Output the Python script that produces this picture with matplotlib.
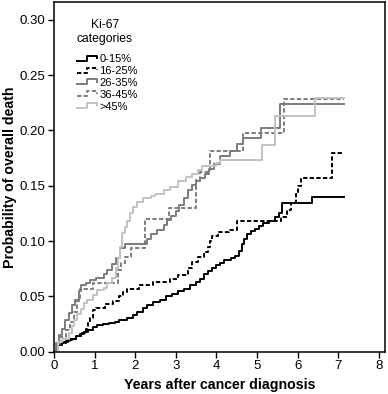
import numpy as np
import matplotlib
matplotlib.use("Agg")
import matplotlib.pyplot as plt
from matplotlib.lines import Line2D
from matplotlib.legend_handler import HandlerLine2D

plt.rcParams['font.family'] = ['Liberation Sans', 'DejaVu Sans']

# cumulative probability of overall death (step, post)
t_0_15 = [0, 0.05, 0.1, 0.15, 0.25, 0.35, 0.45, 0.55, 0.65, 0.75, 0.85, 0.95, 1.05, 1.2, 1.35,
          1.5, 1.6, 1.8, 1.95, 2.05, 2.2, 2.3, 2.45, 2.6, 2.75, 2.9, 3.05, 3.2, 3.35, 3.5, 3.6,
          3.7, 3.8, 3.9, 4.0, 4.1, 4.2, 4.35, 4.45, 4.55, 4.62, 4.68, 4.75, 4.85, 4.95, 5.05,
          5.15, 5.3, 5.45, 5.55, 5.62, 6.35, 7.15]
p_0_15 = [0, .003, .006, .008, .009, .011, .012, .014, .016, .018, .020, .022, .024, .025, .026,
          .027, .029, .031, .033, .036, .040, .042, .045, .047, .050, .052, .055, .057, .060, .063, .066,
          .070, .073, .076, .078, .080, .083, .085, .087, .091, .097, .102, .106, .109, .111, .114,
          .116, .118, .122, .125, .134, .140, .140]

t_16_25 = [0, 0.05, 0.1, 0.2, 0.3, 0.4, 0.55, 0.7, 0.8, 0.84, 0.88, 0.95, 1.03, 1.25, 1.45, 1.6,
           1.7, 1.8, 2.1, 2.45, 2.85, 3.05, 3.3, 3.4, 3.55, 3.7, 3.8, 3.85, 3.9, 4.05, 4.3, 4.5,
           5.6, 5.75, 5.85, 5.95, 6.0, 6.08, 6.85, 7.15]
p_16_25 = [0, .003, .006, .008, .010, .012, .014, .017, .021, .026, .031, .038, .040, .043, .046, .050,
           .054, .057, .060, .063, .066, .069, .076, .081, .086, .090, .095, .100, .105, .108, .110, .118,
           .122, .128, .134, .143, .150, .157, .180, .180]

t_26_35 = [0, 0.05, 0.12, 0.2, 0.28, 0.37, 0.45, 0.53, 0.62, 0.66, 0.78, 0.9, 1.03, 1.23, 1.3,
           1.42, 1.52, 1.63, 1.75, 2.28, 2.4, 2.55, 2.7, 2.78, 2.88, 3.0, 3.08, 3.2, 3.3, 3.4, 3.5,
           3.6, 3.72, 3.82, 3.95, 4.09, 4.33, 4.5, 4.66, 5.1, 5.57, 7.15]
p_26_35 = [0, .008, .015, .021, .029, .035, .0425, .047, .055, .0605, .062, .065, .067, .070, .074,
           .079, .085, .094, .097, .102, .106, .110, .115, .119, .123, .127, .133, .139, .146, .151, .154,
           .157, .161, .165, .170, .177, .181, .188, .193, .202, .224, .224]

t_36_45 = [0, 0.05, 0.15, 0.3, 0.4, 0.5, 0.58, 0.64, 0.95, 1.58, 1.65, 1.75, 1.9, 2.24, 2.83,
           3.5, 3.6, 3.84, 4.66, 5.67, 7.15]
p_36_45 = [0, .007, .013, .020, .027, .036, .046, .057, .062, .074, .080, .086, .094, .120, .130,
           .155, .162, .181, .1975, .2286, .2286]

t_45 = [0, 0.1, 0.2, 0.37, 0.45, 0.5, 0.58, 0.66, 0.74, 0.82, 0.95, 1.07, 1.23, 1.31, 1.44, 1.52,
        1.58, 1.63, 1.67, 1.75, 1.8, 1.87, 1.95, 2.05, 2.2, 2.4, 2.5, 2.7, 2.86, 3.05, 3.25, 3.4,
        3.55, 3.65, 4.0, 4.09, 5.12, 5.45, 6.43, 7.15]
p_45 = [0, .009, .012, .017, .023, .029, .034, .039, .044, .047, .0515, .056, .058, .062, .0665, .0755,
        .085, .095, .107, .113, .118, .125, .131, .135, .139, .141, .143, .146, .149, .154, .158, .161,
        .164, .168, .171, .173, .187, .2126, .229, .229]

labels = ["0-15%", "16-25%", "26-35%", "36-45%", ">45%"]
series = [(t_0_15, p_0_15), (t_16_25, p_16_25), (t_26_35, p_26_35), (t_36_45, p_36_45), (t_45, p_45)]
colors = ["black", "black", "#7c7c7c", "#7c7c7c", "#c2c2c2"]
styles = ["-", (0, (2.2, 1.2)), "-", (0, (2.2, 1.2)), "-"]


class StepHandler(HandlerLine2D):
    # little step glyph like the original legend
    def create_artists(self, legend, orig_handle, xdescent, ydescent, width, height, fontsize, trans):
        xs = np.array([0, 0.5, 0.5, 0.95, 0.95]) * width - xdescent
        ys = np.array([0.2, 0.2, 0.85, 0.85, 0.55]) * height - ydescent
        line = Line2D(xs, ys)
        self.update_prop(line, orig_handle, legend)
        line.set_transform(trans)
        return [line]


fig = plt.figure(figsize=(3.88, 3.94), dpi=100)
ax = fig.add_axes([0.139, 0.107, 0.853, 0.888])

handles = []
for (t, p), c, ls, lab in zip(series, colors, styles, labels):
    h, = ax.step(t, p, where='post', color=c, linestyle=ls, linewidth=1.4, label=lab)
    handles.append(h)

ax.set_xlim(0, 8.15)
ax.set_ylim(0, 0.316)
ax.set_xticks(range(0, 9))
ax.set_yticks(np.arange(0, 0.31, 0.05))
ax.set_yticklabels([f"{v:.2f}" for v in np.arange(0, 0.31, 0.05)])
ax.tick_params(direction='out', length=4, width=1, labelsize=9.5, pad=2)
for s in ax.spines.values():
    s.set_linewidth(1.1)

ax.set_xlabel("Years after cancer diagnosis", fontsize=10.2, fontweight='bold', labelpad=4)
ax.set_ylabel("Probability of overall death", fontsize=10.2, fontweight='bold')
ax.yaxis.set_label_coords(-0.112, 0.5)

ax.text(0.154, 0.952, "Ki-67\ncategories", transform=ax.transAxes, ha='center', va='top',
        fontsize=8.7, linespacing=1.2)
ax.legend(handles=handles, loc='upper left', bbox_to_anchor=(0.069, 0.85), frameon=False,
          fontsize=8, borderpad=0, borderaxespad=0, handlelength=1.9, handletextpad=0.15,
          labelspacing=0.16, handler_map={Line2D: StepHandler()})

fig.savefig("out.png", dpi=100)
